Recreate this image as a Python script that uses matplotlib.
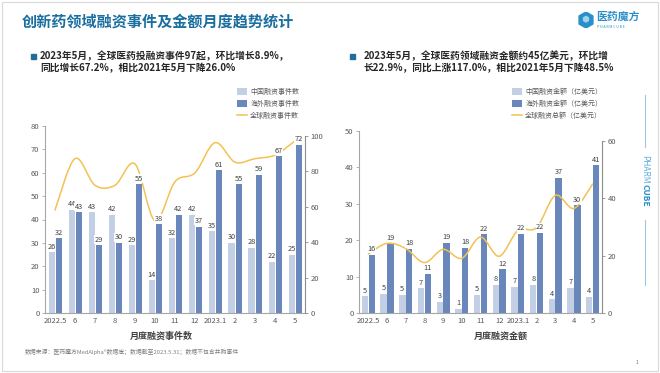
import matplotlib
matplotlib.use("Agg")
import matplotlib.pyplot as plt
import numpy as np
from matplotlib.path import Path
from matplotlib.patches import PathPatch, Rectangle, Patch, RegularPolygon
from matplotlib.lines import Line2D

plt.rcParams['font.family'] = ['Noto Sans CJK SC', 'DejaVu Sans']

# ---------------- data ----------------
months = ["2022.5", "6", "7", "8", "9", "10", "11", "12", "2023.1", "2", "3", "4", "5"]
cn_events = [26, 44, 43, 42, 29, 14, 32, 42, 35, 30, 28, 22, 25]
os_events = [32, 43, 29, 30, 55, 38, 42, 37, 61, 55, 59, 67, 72]
gl_events = [58, 87, 72, 72, 84, 52, 74, 79, 96, 85, 87, 89, 97]

cn_amount = [4.6, 5.2, 4.9, 6.8, 3.0, 1.2, 4.9, 7.8, 7.1, 7.7, 3.8, 6.9, 4.4]
os_amount = [16.0, 19.1, 17.6, 10.8, 19.2, 17.9, 21.6, 12.0, 21.7, 22.1, 37.2, 29.6, 40.6]
gl_amount = [20.6, 24.3, 22.5, 17.6, 22.2, 19.1, 26.5, 19.8, 28.8, 29.8, 41.0, 36.5, 45.0]

title = "创新药领域融资事件及金额月度趋势统计"
note_left = ["2023年5月，全球医药投融资事件97起，环比增长8.9%，",
             "同比增长67.2%，相比2021年5月下降26.0%"]
note_right = ["2023年5月，全球医药领域融资金额约45亿美元，环比增",
              "长22.9%，同比上涨117.0%，相比2021年5月下降48.5%"]
leg_left = ["中国融资事件数", "海外融资事件数", "全球融资事件数"]
leg_right = ["中国融资金额（亿美元）", "海外融资金额（亿美元）", "全球融资总额（亿美元）"]
xlabel_left = "月度融资事件数"
xlabel_right = "月度融资金额"
footer = "数据来源：医药魔方MedAlpha®数据库；数据截至2023.5.31；数据不包含并购事件"

# ---------------- style ----------------
C_CN = "#c3cfe4"
C_OS = "#6987ba"
C_LN = "#f2c252"
C_TXT = "#404040"
C_AX = "#a6a6a6"
W, H = 660, 373

fig = plt.figure(figsize=(6.6, 3.73), dpi=100)
fig.patch.set_facecolor("white")


def fx(px):
    return px / W


def fy(py):
    return 1 - py / H


def smooth_path(x, y):
    x = np.asarray(x, float)
    y = np.asarray(y, float)
    pts = np.column_stack([x, y])
    n = len(pts)
    verts = [pts[0]]
    codes = [Path.MOVETO]
    for i in range(n - 1):
        p0 = pts[i - 1] if i > 0 else pts[i]
        p1 = pts[i]
        p2 = pts[i + 1]
        p3 = pts[i + 2] if i + 2 < n else pts[i + 1]
        c1 = p1 + (p2 - p0) / 6.0
        c2 = p2 - (p3 - p1) / 6.0
        verts += [c1, c2, p2]
        codes += [Path.CURVE4] * 3
    return Path(verts, codes)


def make_chart(rect, cn, os_, gl, ymax, ystep, y2top, y2max, y2step, width, off, fmt):
    ax = fig.add_axes(rect)
    x = np.arange(len(months))
    ax.bar(x - off, cn, width=width, color=C_CN, zorder=2)
    ax.bar(x + off, os_, width=width, color=C_OS, zorder=2)
    ax.set_xlim(-0.5, len(months) - 0.5)
    ax.set_ylim(0, ymax)
    ax.set_yticks(np.arange(0, ymax + 0.1, ystep))
    ax.set_xticks(x)
    ax.set_xticklabels(months)
    for s in ["top", "right"]:
        ax.spines[s].set_visible(False)
    for s in ["left", "bottom"]:
        ax.spines[s].set_color(C_AX)
        ax.spines[s].set_linewidth(0.8)
    ax.tick_params(axis="y", length=2, width=0.6, color=C_AX, labelsize=5.5,
                   labelcolor="#595959", pad=2)
    ax.tick_params(axis="x", length=0, labelsize=5.5, labelcolor="#595959", pad=3)

    ax2 = ax.twinx()
    ax2.set_ylim(0, y2top)
    ax2.set_yticks(np.arange(0, y2max + 0.1, y2step))
    for s in ["top", "left", "bottom"]:
        ax2.spines[s].set_visible(False)
    ax2.spines["right"].set_color("#8c8c8c")
    ax2.spines["right"].set_linewidth(0.8)
    ax2.spines["right"].set_bounds(0, y2max)
    ax2.tick_params(axis="y", length=2, width=0.6, color="#8c8c8c", labelsize=5.5,
                    labelcolor="#595959", pad=2)
    ax2.add_patch(PathPatch(smooth_path(x, gl), fill=False, edgecolor=C_LN,
                            lw=1.1, zorder=3, capstyle="round"))

    for xs, vals in [(x - off, cn), (x + off, os_)]:
        for xi, v in zip(xs, vals):
            ax2.annotate(fmt(v), xy=(xi, v), xycoords=ax.transData, xytext=(0, 1.2),
                         textcoords="offset points", ha="center", va="bottom",
                         fontsize=5.3, color=C_TXT, zorder=5,
                         bbox=dict(boxstyle="square,pad=0.04", fc="white", ec="none"))
    return ax, ax2


fmt_int = lambda v: f"{v:.0f}"

# left chart
make_chart([fx(45), fy(313), fx(260), (313 - 126) / H], cn_events, os_events, gl_events,
           80, 10, 105.4, 100, 20, 0.3, 0.175, fmt_int)
# right chart
make_chart([fx(359), fy(313), fx(243), (313 - 131) / H], cn_amount, os_amount, gl_amount,
           50, 10, 63.5, 60, 20, 0.34, 0.18, fmt_int)

# axis titles
fig.text(fx(161), fy(336), xlabel_left, ha="center", va="center", fontsize=6.5,
         fontweight="bold", color=C_TXT)
fig.text(fx(501), fy(336), xlabel_right, ha="center", va="center", fontsize=6.5,
         fontweight="bold", color=C_TXT)

# legends
def make_legend(px, labels):
    handles = [Patch(facecolor=C_CN, edgecolor="none"),
               Patch(facecolor=C_OS, edgecolor="none"),
               Line2D([0], [0], color=C_LN, lw=1.1)]
    fig.legend(handles, labels, loc="upper left", bbox_to_anchor=(fx(px), fy(88)),
               frameon=False, fontsize=5, handlelength=1.4, handleheight=1.1,
               handletextpad=0.5, labelspacing=0.55, borderaxespad=0, borderpad=0,
               labelcolor="#595959")

make_legend(237, leg_left)
make_legend(512, leg_right)

# title
fig.text(fx(22), fy(22), title, ha="left", va="center", fontsize=10.9,
         fontweight="bold", color="#1b6fa0")

# bullet notes
for bx, tx, lines in [(31, 40, note_left), (350, 364, note_right)]:
    fig.add_artist(Rectangle((fx(bx), fy(59)), fx(5), 5 / H, transform=fig.transFigure,
                             color="#1f6f9a"))
    for i, ln in enumerate(lines):
        fig.text(fx(tx), fy(56 + 12 * i), ln, ha="left", va="center", fontsize=7,
                 fontweight="bold", color="#262626")

# logo
lax = fig.add_axes([fx(578), fy(28), fx(16), 16 / H])
lax.set_xlim(-1, 1)
lax.set_ylim(-1, 1)
lax.set_aspect("equal")
lax.axis("off")
lax.add_patch(RegularPolygon((0, 0), 6, radius=1.0, color="#2a8fc8"))
lax.add_patch(RegularPolygon((0, 0.1), 6, radius=0.35, color="#9fd3ef"))
fig.text(fx(596), fy(17), "医药魔方", ha="left", va="center", fontsize=7.8,
         fontweight="bold", color="#2a8fc8")
fig.text(fx(597), fy(27), "P H A R M C U B E", ha="left", va="center", fontsize=2.6,
         color="#2a8fc8")

# side brand
fig.add_artist(Line2D([fx(645), fx(645)], [fy(95), fy(147)], color="#9fc7e0", lw=0.8))
fig.add_artist(Line2D([fx(645), fx(645)], [fy(220), fy(285)], color="#9fc7e0", lw=0.8))
fig.text(fx(645), fy(184), "PHARM", rotation=-90, rotation_mode="anchor", ha="right",
         va="center", fontsize=6, color="#5aaedb")
fig.text(fx(645), fy(184), "CUBE", rotation=-90, rotation_mode="anchor", ha="left",
         va="center", fontsize=6, fontweight="bold", color="#2a8fc8")

# footer
fig.text(fx(25), fy(352), footer, ha="left", va="center", fontsize=4.2, color="#7f7f7f")
fig.text(fx(637), fy(362), "1", ha="center", va="center", fontsize=4, color="#7f7f7f")

# frame
fig.add_artist(Rectangle((fx(2), fy(371)), fx(656), 369 / H, transform=fig.transFigure,
                         fill=False, edgecolor="#d9d9d9", lw=0.8))

fig.savefig("out.png", dpi=100)
